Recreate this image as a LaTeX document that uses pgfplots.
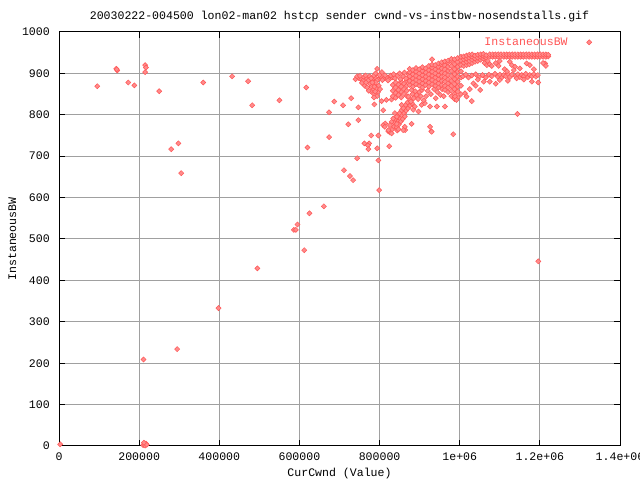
\documentclass[border=0pt]{standalone}
\usepackage{fontspec}
\setmainfont{Liberation Mono}
\usepackage{pgfplots}
\pgfplotsset{compat=1.18}
\definecolor{gnured}{RGB}{255,85,85}
\definecolor{gridgray}{RGB}{160,160,160}
\newcommand{\gf}{\fontsize{11.6}{13}\selectfont}
\begin{document}
\begin{tikzpicture}[x=1bp,y=1bp]
\path[use as bounding box] (0,0) rectangle (640,480);
\begin{axis}[
  at={(59bp,34bp)}, anchor=south west,
  scale only axis, width=561bp, height=414bp,
  xmin=0, xmax=1400000, ymin=0, ymax=1000,
  xtick={0,200000,400000,600000,800000,1000000,1200000,1400000},
  xticklabels={0,200000,400000,600000,800000,1e+06,1.2e+06,1.4e+06},
  ytick={0,100,200,300,400,500,600,700,800,900,1000},
  yticklabels={0,100,200,300,400,500,600,700,800,900,1000},
  scaled x ticks=false,
  grid=major, major grid style={gridgray, line width=1bp},
  tick style={black, line width=1bp}, major tick length=6bp,
  tick align=inside,
  axis line style={black, line width=1bp},
  xticklabel style={font=\gf, anchor=base, inner sep=0pt, yshift=-15bp},
  yticklabel style={font=\gf, anchor=east, inner sep=0pt, xshift=-9bp},
  clip=false,
  legend style={draw=none, fill=none, at={(axis cs:1330000,975)}, anchor=east,
    font=\gf, text=gnured, inner sep=0pt},
  legend plot pos=right,
  legend image code/.code={\draw[#1] plot coordinates {(0bp,0bp)};},
]
\addplot[only marks, mark=square*, mark size=1.8bp,
  mark options={draw=gnured, fill=gnured!68, line width=0.5bp, rotate=45}]
coordinates {
(3000,4) (210000,2) (213000,5) (215000,1) (217000,6) (219000,3) (212000,8)
(211000,209) (295000,234) (398000,333) (495000,429) (612000,473) (586000,522) (591000,522) (595000,535) (625000,562) (661000,579)
(95600,869) (143000,911) (145500,907) (144000,910) (173000,878) (188000,871) (215000,920) (217000,914) (215000,903) (250000,857)
(280000,717) (298000,731) (305000,659) (360000,878) (432000,893) (472000,881) (482000,823) (550000,835) (617000,866) (620000,721)
(674000,806) (674000,746) (687000,832) (709000,823) (722000,777) (729000,840) (711000,666) (726000,652) (734000,642)
(747000,818) (747000,787) (744000,695) (799000,618) (797000,690) (794000,719) (824000,724)
(762000,731) (774000,731) (771000,726) (772000,717) (779000,750) (797000,750)
(822000,760) (844000,762) (864000,763) (929000,760) (984000,753) (1196000,446) (1144000,802) (794000,911) (931000,934)
(740000,886) (747000,889) (754000,885) (761000,891) (768000,887) (775000,893) (782000,886) (789000,890) (796000,885) (803000,892)
(810000,887) (817000,891) (824000,886) (831000,890)
(744000,893) (751000,894) (758000,882) (765000,895) (772000,883) (779000,888) (786000,895) (793000,883) (800000,896) (807000,884)
(814000,895) (821000,883) (828000,895) (790000,900) (806000,903)
(776000,875) (780000,868) (784000,860) (788000,872) (792000,864) (796000,855) (786000,850) (790000,878) (798000,870) (782000,878)
(794000,845) (801000,862) (778000,857) (787000,868) (789000,856) (786000,842) (787000,825)
(756000,877) (763000,870) (769000,866) (773000,858) (766000,878)
(805000,833) (809000,811) (817000,836) (830000,837)
(833000,845) (833000,858) (833000,872) (840000,841) (840000,853) (840000,866) (840000,878) (847000,848) (847000,860) (847000,873)
(854000,842) (854000,855) (854000,868) (854000,880) (861000,850) (861000,862) (861000,875) (868000,845) (868000,858) (868000,870) (868000,883)
(838000,888) (845000,895) (852000,886) (859000,893) (866000,888) (873000,897) (835000,898) (850000,900) (862000,902)
(826000,757) (831000,764) (836000,771) (841000,778) (846000,785) (851000,791) (856000,798) (861000,804) (866000,810) (871000,816)
(876000,822) (881000,828) (835000,782) (840000,790) (845000,797) (850000,804) (855000,811) (860000,817) (865000,824) (870000,830)
(843000,770) (848000,777) (853000,784) (858000,790) (863000,796)
(838000,804) (843000,795) (830000,783) (834000,791) (814000,779) (826000,775) (822000,763) (830000,755) (847000,765) (863000,771)
(880000,778) (859000,816) (855000,824) (884000,812) (888000,820) (897000,808) (905000,824) (913000,828) (926000,820) (943000,820)
(963000,820) (876000,836) (872000,844) (926000,771) (930000,759) (809000,775) (813000,771) (843000,778) (859000,763)
(878000,832) (885000,840) (892000,848) (899000,855) (906000,860) (882000,850) (889000,857) (896000,838) (903000,845) (910000,835) (880000,860)
(920000,858) (928000,850) (936000,862) (944000,855) (952000,848) (916000,845) (940000,840) (956000,862) (960000,845)
(875000,872) (875000,882) (875000,893) (875000,903) (875000,911)
(883000,868) (883000,878) (883000,888) (883000,898) (883000,908)
(891000,874) (891000,884) (891000,894) (891000,904) (891000,913)
(899000,870) (899000,880) (899000,890) (899000,900) (899000,910)
(907000,866) (907000,876) (907000,886) (907000,896) (907000,906) (907000,915)
(915000,872) (915000,882) (915000,892) (915000,902) (915000,912)
(923000,868) (923000,878) (923000,888) (923000,898) (923000,908) (923000,918)
(931000,874) (931000,884) (931000,894) (931000,904) (931000,914) (931000,921)
(939000,870) (939000,880) (939000,890) (939000,900) (939000,910) (939000,920)
(947000,866) (947000,876) (947000,886) (947000,896) (947000,906) (947000,916) (947000,924)
(955000,872) (955000,882) (955000,892) (955000,902) (955000,912) (955000,922) (955000,927)
(963000,860) (963000,870) (963000,880) (963000,890) (963000,900) (963000,910) (963000,920) (963000,929)
(971000,855) (971000,866) (971000,876) (971000,886) (971000,896) (971000,906) (971000,916) (971000,926) (971000,931)
(979000,845) (979000,858) (979000,870) (979000,882) (979000,894) (979000,906) (979000,918) (979000,930) (979000,935)
(987000,838) (987000,850) (987000,862) (987000,874) (987000,886) (987000,898) (987000,910) (987000,922) (987000,934)
(995000,842) (995000,856) (995000,868) (995000,880) (995000,892) (995000,904) (995000,916) (995000,928) (995000,937)
(1003000,850) (1003000,870) (1003000,890) (1003000,905) (1003000,920) (1003000,932) (1003000,940)
(1010000,918) (1010000,926) (1010000,934) (1010000,941) (1017000,920) (1017000,928) (1017000,936) (1017000,943)
(1024000,922) (1024000,930) (1024000,938) (1024000,945) (1031000,925) (1031000,933) (1031000,940) (1031000,946)
(1038000,928) (1038000,936) (1038000,943) (1045000,930) (1045000,938) (1045000,945) (1052000,933) (1052000,940) (1052000,946)
(1059000,936) (1059000,942) (1059000,947) (1066000,938) (1066000,944) (1062000,925) (1068000,920) (1070000,930) (1075000,922) (1080000,918)
(1075000,940) (1082000,940) (1089000,940) (1096000,940) (1103000,940) (1110000,940) (1117000,940) (1124000,940) (1131000,940) (1138000,940)
(1145000,940) (1152000,940) (1159000,940) (1166000,940) (1173000,940) (1180000,940) (1187000,940) (1194000,940) (1201000,940) (1208000,940)
(1215000,940) (1221000,941)
(1075000,946) (1082000,946) (1089000,946) (1096000,946) (1103000,946) (1110000,946) (1117000,946) (1124000,946) (1131000,946) (1138000,946)
(1145000,946) (1152000,946) (1159000,946) (1166000,946) (1173000,946) (1180000,946) (1187000,946) (1194000,946) (1201000,946) (1208000,946)
(1215000,946) (1221000,945)
(1125000,928) (1130000,920) (1138000,916) (1167000,924) (1175000,920) (1213000,924) (1100000,930) (1208000,925) (1215000,918)
(1008000,893) (1015000,897) (1022000,890) (1030000,895) (1040000,898) (1048000,891) (1057000,896) (1065000,890) (1073000,897) (1080000,893)
(1088000,899) (1095000,892) (1100000,897) (1105000,890) (1110000,896) (1115000,893) (1120000,899) (1125000,891) (1130000,897) (1140000,893)
(1145000,898) (1150000,891) (1155000,896) (1160000,893) (1165000,899) (1170000,891) (1175000,896) (1180000,893) (1185000,898) (1190000,892) (1195000,896)
(1034000,876) (1051000,860) (1075000,880) (1100000,884) (1142000,888) (1196000,878) (1030000,833) (1013000,852) (1017000,844) (988000,844)
(992000,836) (1040000,870) (1060000,880) (1090000,875) (1120000,882) (1160000,885) (1180000,880) (1045000,885) (1025000,862)
(1090000,925) (1097000,918) (1112000,910) (1118000,905) (1135000,908) (1150000,912) (1185000,910)
};
\addlegendentry{InstaneousBW\hspace*{17bp}}
\end{axis}
\node[font=\gf, anchor=base] at (339.5,460.7) {20030222-004500 lon02-man02 hstcp sender cwnd-vs-instbw-nosendstalls.gif};
\node[font=\gf, anchor=base] at (339.5,3.3) {CurCwnd (Value)};
\node[font=\gf, anchor=base, rotate=90] at (16,241) {InstaneousBW};
\end{tikzpicture}
\end{document}
